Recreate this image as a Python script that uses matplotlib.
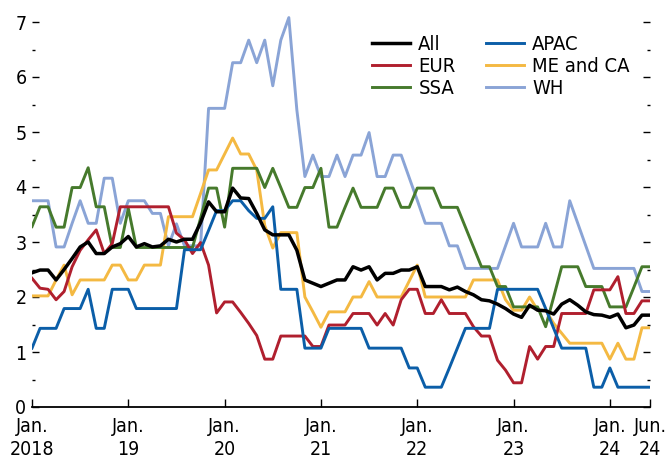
import numpy as np
import matplotlib
matplotlib.use("Agg")
import matplotlib.pyplot as plt
from matplotlib.ticker import MultipleLocator

plt.rcParams['font.family'] = ['DejaVu Sans']
plt.rcParams['font.stretch'] = 'condensed'

# monthly, Jan. 2018 .. Jun. 2024
all_regions = [2.44, 2.49, 2.49, 2.31, 2.50, 2.70, 2.91, 3.00, 2.79, 2.79, 2.91, 2.97,
               3.10, 2.91, 2.97, 2.91, 2.93, 3.05, 3.00, 3.05, 3.05, 3.35, 3.73, 3.55,
               3.55, 3.98, 3.80, 3.79, 3.52, 3.22, 3.13, 3.13, 3.13, 2.85, 2.31, 2.25,
               2.19, 2.25, 2.31, 2.31, 2.55, 2.49, 2.55, 2.31, 2.43, 2.43, 2.49, 2.49,
               2.55, 2.19, 2.19, 2.19, 2.13, 2.18, 2.10, 2.04, 1.95, 1.93, 1.87, 1.79,
               1.69, 1.63, 1.85, 1.76, 1.75, 1.69, 1.87, 1.95, 1.85, 1.73, 1.68, 1.67,
               1.63, 1.69, 1.44, 1.49, 1.67, 1.67]
eur = [2.34, 2.16, 2.14, 1.95, 2.10, 2.55, 2.85, 3.04, 3.22, 2.79, 2.97, 3.64,
       3.64, 3.64, 3.64, 3.64, 3.64, 3.64, 3.16, 3.04, 2.79, 2.99, 2.58, 1.71,
       1.91, 1.91, 1.72, 1.52, 1.30, 0.87, 0.87, 1.29, 1.29, 1.29, 1.29, 1.10,
       1.10, 1.49, 1.49, 1.49, 1.70, 1.70, 1.70, 1.49, 1.70, 1.49, 1.95, 2.14,
       2.14, 1.70, 1.70, 1.95, 1.70, 1.70, 1.70, 1.46, 1.29, 1.29, 0.85, 0.67,
       0.44, 0.44, 1.10, 0.87, 1.10, 1.10, 1.70, 1.70, 1.70, 1.70, 2.13, 2.13,
       2.13, 2.37, 1.70, 1.70, 1.93, 1.93]
ssa = [3.28, 3.64, 3.64, 3.27, 3.27, 3.99, 3.99, 4.35, 3.64, 3.64, 2.90, 2.90,
       3.61, 2.90, 2.90, 2.90, 2.90, 2.90, 2.90, 2.90, 2.90, 3.43, 3.98, 3.98,
       3.27, 4.34, 4.34, 4.34, 4.34, 3.99, 4.34, 3.99, 3.63, 3.63, 3.99, 3.99,
       4.34, 3.27, 3.27, 3.63, 3.98, 3.63, 3.63, 3.63, 3.98, 3.98, 3.63, 3.63,
       3.98, 3.98, 3.98, 3.63, 3.63, 3.63, 3.27, 2.91, 2.55, 2.55, 2.19, 2.19,
       1.82, 1.82, 1.82, 1.82, 1.46, 2.00, 2.55, 2.55, 2.55, 2.19, 2.19, 2.19,
       1.82, 1.82, 1.82, 2.18, 2.55, 2.55]
apac = [1.07, 1.43, 1.43, 1.43, 1.79, 1.79, 1.79, 2.14, 1.43, 1.43, 2.14, 2.14,
        2.14, 1.79, 1.79, 1.79, 1.79, 1.79, 1.79, 2.86, 2.86, 2.86, 3.21, 3.57,
        3.57, 3.75, 3.75, 3.57, 3.43, 3.43, 3.64, 2.14, 2.14, 2.14, 1.07, 1.07,
        1.07, 1.43, 1.43, 1.43, 1.43, 1.43, 1.07, 1.07, 1.07, 1.07, 1.07, 0.71,
        0.71, 0.36, 0.36, 0.36, 0.71, 1.07, 1.43, 1.43, 1.43, 1.43, 2.14, 2.14,
        2.14, 2.14, 2.14, 2.14, 1.79, 1.43, 1.07, 1.07, 1.07, 1.07, 0.36, 0.36,
        0.71, 0.36, 0.36, 0.36, 0.36, 0.36]
me_ca = [2.02, 2.02, 2.02, 2.31, 2.58, 2.04, 2.31, 2.31, 2.31, 2.31, 2.58, 2.58,
         2.31, 2.31, 2.58, 2.58, 2.58, 3.46, 3.46, 3.46, 3.46, 3.88, 4.31, 4.31,
         4.60, 4.89, 4.60, 4.60, 4.31, 3.30, 2.89, 3.17, 3.17, 3.17, 2.00, 1.73,
         1.45, 1.73, 1.73, 1.73, 2.00, 2.00, 2.28, 2.00, 2.00, 2.00, 2.00, 2.29,
         2.58, 2.00, 2.00, 2.00, 2.00, 2.00, 2.00, 2.31, 2.31, 2.31, 2.31, 1.95,
         1.76, 1.76, 2.00, 1.76, 1.76, 1.52, 1.34, 1.16, 1.16, 1.16, 1.16, 1.16,
         0.87, 1.16, 0.87, 0.87, 1.44, 1.44]
wh = [3.75, 3.75, 3.75, 2.91, 2.91, 3.34, 3.75, 3.34, 3.34, 4.16, 4.16, 3.34,
      3.75, 3.75, 3.75, 3.52, 3.52, 2.93, 3.33, 2.93, 2.93, 2.93, 5.43, 5.43,
      5.43, 6.26, 6.26, 6.67, 6.26, 6.67, 5.84, 6.67, 7.08, 5.40, 4.19, 4.58,
      4.19, 4.19, 4.58, 4.19, 4.58, 4.58, 4.99, 4.19, 4.19, 4.58, 4.58, 4.17,
      3.76, 3.34, 3.34, 3.34, 2.93, 2.93, 2.52, 2.52, 2.52, 2.52, 2.52, 2.93,
      3.34, 2.91, 2.91, 2.91, 3.34, 2.91, 2.91, 3.75, 3.34, 2.93, 2.52, 2.52,
      2.52, 2.52, 2.52, 2.52, 2.10, 2.10]

tick_pos = [0, 12, 24, 36, 48, 60, 72, 77]
tick_labels = ['Jan.\n2018', 'Jan.\n19', 'Jan.\n20', 'Jan.\n21', 'Jan.\n22',
               'Jan.\n23', 'Jan.\n24', 'Jun.\n24']

months = np.arange(len(all_regions))

fig = plt.figure(figsize=(6.65, 4.58), dpi=100)
ax = fig.add_axes([32 / 665, 51 / 458, 618 / 665, 401.5 / 458])

lw = 2.1
ax.plot(months, all_regions, color='black', lw=2.5, label='All', zorder=10)
ax.plot(months, eur, color='#b01f2e', lw=lw, label='EUR', zorder=5)
ax.plot(months, ssa, color='#467a2c', lw=lw, label='SSA', zorder=4)
ax.plot(months, apac, color='#0b5ea8', lw=lw, label='APAC', zorder=6)
ax.plot(months, me_ca, color='#f4b942', lw=lw, label='ME and CA', zorder=3)
ax.plot(months, wh, color='#8aa4d6', lw=lw, label='WH', zorder=2)

ax.set_xlim(0, 77)
ax.set_ylim(0, 7.3)
ax.yaxis.set_major_locator(MultipleLocator(1))
ax.yaxis.set_minor_locator(MultipleLocator(0.5))
ax.set_xticks(tick_pos)
ax.set_xticklabels(tick_labels, fontsize=14, linespacing=1.3)

for s in ['left', 'right', 'top']:
    ax.spines[s].set_visible(False)
ax.spines['bottom'].set_linewidth(1.3)

ax.tick_params(axis='y', which='major', direction='in', length=5, width=1,
               left=True, right=True, labelsize=14, pad=4)
ax.tick_params(axis='y', which='minor', direction='in', length=2.5, width=1,
               left=True, right=True)
ax.tick_params(axis='x', which='major', direction='in', length=6, width=1, pad=7)

ax.legend(ncol=2, frameon=False, fontsize=14.5, loc='upper left',
          bbox_to_anchor=(372 / 665, 1 - 35 / 458), bbox_transform=fig.transFigure,
          borderaxespad=0, borderpad=0, handlelength=1.9, handletextpad=0.4,
          columnspacing=1.5, labelspacing=0.15)

fig.savefig('out.png', dpi=100)
